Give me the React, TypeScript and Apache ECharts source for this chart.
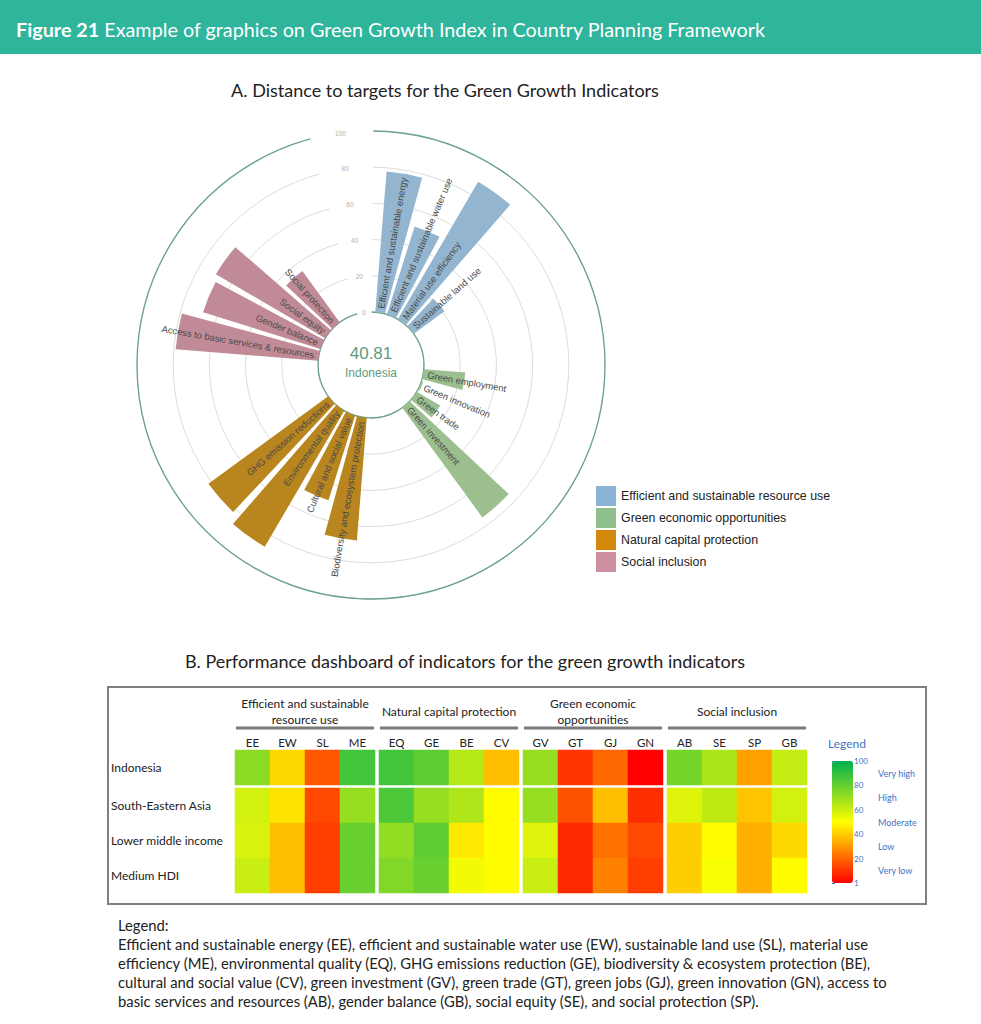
import React, { useEffect, useRef } from 'react';
import * as echarts from 'echarts';

// ---------- Panel A: distance to targets (polar bars) ----------
const groupNames = [
  'Efficient and sustainable resource use',
  'Green economic opportunities',
  'Natural capital protection',
  'Social inclusion',
];
const barColors = ['#94b5cf', '#9bbf8f', '#b9851e', '#c08b97'];
const swatchColors = ['#8ab3d3', '#8fbf8d', '#d2870d', '#cf8fa0'];

const resourceIndicators = [
  'Efficient and sustainable energy',
  'Efficient and sustainable water use',
  'Material use efficiency',
  'Sustainable land use',
];
const resourceValues = [78, 51, 88, 21];

const economicIndicators = ['Green employment', 'Green innovation', 'Green trade', 'Green investment'];
const economicValues = [23, 1, 15, 75];

const naturalIndicators = [
  'Biodiversity and ecosystem protection',
  'Cultural and social value',
  'Environmental quality',
  'GHG emission reductions',
];
const naturalValues = [68, 49, 87, 82];

const socialIndicators = [
  'Access to basic services & resources',
  'Gender balance',
  'Social equity',
  'Social protection',
];
const socialValues = [79, 68, 70, 35];

const radialTicks = [0, 20, 40, 60, 80, 100];
const overallScore = '40.81';
const countryName = 'Indonesia';

// ---------- Panel B: performance dashboard (heatmap) ----------
const regions = ['Indonesia', 'South-Eastern Asia', 'Lower middle income', 'Medium HDI'];
const dashboardGroups = [
  'Efficient and sustainable\nresource use',
  'Natural capital protection',
  'Green economic\nopportunities',
  'Social inclusion',
];
const indicatorCodes = [
  ['EE', 'EW', 'SL', 'ME'],
  ['EQ', 'GE', 'BE', 'CV'],
  ['GV', 'GT', 'GJ', 'GN'],
  ['AB', 'SE', 'SP', 'GB'],
];
const indonesiaScores = [73, 43, 18, 87, 87, 82, 65, 38, 71, 11, 21, 1, 77, 67, 32, 62];
const seAsiaScores = [59, 45, 15, 71, 85, 71, 66, 50, 71, 17, 38, 10, 57, 63, 39, 59];
const lowerMiddleScores = [58, 38, 13, 80, 72, 82, 46, 50, 57, 9, 23, 15, 41, 50, 35, 43];
const mediumHdiScores = [61, 38, 13, 80, 75, 80, 53, 50, 61, 9, 26, 13, 41, 52, 35, 50];
const colorbarTicks = ['1', '20', '40', '60', '80', '100'];
const colorbarBands = ['Very low', 'Low', 'Moderate', 'High', 'Very high'];

const legendLines = [
  'Legend:',
  'Efficient and sustainable energy (EE), efficient and sustainable water use (EW), sustainable land use (SL), material use',
  'efficiency (ME), environmental quality (EQ), GHG emissions reduction (GE), biodiversity & ecosystem protection (BE),',
  'cultural and social value (CV), green investment (GV), green trade (GT), green jobs (GJ), green innovation (GN), access to',
  'basic services and resources (AB), gender balance (GB), social equity (SE), and social protection (SP).',
];

const FONT = 'Lato, "Open Sans", sans-serif';
const ARIAL = '"Liberation Sans", Arial, sans-serif';

function buildOption() {
  const cx = 371;
  const cy = 365;
  const r0 = 53;
  const r1 = 234;
  const gapSlots = 3;

  const indicatorGroups = [resourceIndicators, economicIndicators, naturalIndicators, socialIndicators];
  const valueGroups = [resourceValues, economicValues, naturalValues, socialValues];
  const angleCats: string[] = [];
  const slotOwner: number[] = [];
  const slotValue: number[] = [];
  indicatorGroups.forEach((inds, g) => {
    inds.forEach((n, k) => {
      angleCats.push(n);
      slotOwner.push(g);
      slotValue.push(valueGroups[g][k]);
    });
    for (let i = 0; i < gapSlots; i++) {
      angleCats.push('gap-' + g + '-' + i);
      slotOwner.push(-1);
      slotValue.push(0);
    }
  });

  const barSeries = groupNames.map((name, g) => ({
    type: 'bar',
    name,
    coordinateSystem: 'polar',
    polarIndex: 0,
    stack: 'all',
    barCategoryGap: '17%',
    itemStyle: { color: barColors[g] },
    data: angleCats.map((_, i) => (slotOwner[i] === g ? slotValue[i] : null)),
    z: 2,
  }));

  const labelData: number[][] = [];
  angleCats.forEach((_, i) => {
    if (slotOwner[i] >= 0) labelData.push([2.5, i]);
  });

  const labelSeries = {
    type: 'custom',
    name: 'indicator labels',
    coordinateSystem: 'polar',
    polarIndex: 0,
    data: labelData,
    silent: true,
    z: 5,
    renderItem: (params: any, api: any) => {
      const idx = api.value(1);
      const p = api.coord([api.value(0), idx]);
      const cs = params.coordSys;
      const dx = p[0] - cs.cx;
      const dy = p[1] - cs.cy;
      let deg = (Math.atan2(dx, -dy) * 180) / Math.PI;
      if (deg < 0) deg += 360;
      const left = deg > 180;
      const rot = left ? 270 - deg : 90 - deg;
      return {
        type: 'text',
        x: p[0],
        y: p[1],
        rotation: (rot * Math.PI) / 180,
        style: {
          text: angleCats[idx],
          fill: '#4a4a4a',
          fontSize: 9.4,
          fontFamily: ARIAL,
          align: left ? 'right' : 'left',
          verticalAlign: 'middle',
        },
      };
    },
  };

  // heatmap grids
  const rowSets = [[0], [1, 2, 3]];
  const allScores = [indonesiaScores, seAsiaScores, lowerMiddleScores, mediumHdiScores];
  const cell = 35;
  const grids: any[] = [];
  const xAxes: any[] = [];
  const yAxes: any[] = [];
  const heatSeries: any[] = [];
  const hmLeft = 235;
  const groupStep = cell * 4 + 4;
  const tops = [750, 788];
  rowSets.forEach((rows, s) => {
    indicatorCodes.forEach((codes, g) => {
      const gi = grids.length;
      grids.push({
        left: hmLeft + g * groupStep,
        top: tops[s],
        width: cell * 4,
        height: cell * rows.length,
      });
      xAxes.push({
        type: 'category',
        gridIndex: gi,
        data: codes,
        position: 'top',
        axisLine: { show: false },
        axisTick: { show: false },
        axisLabel: { show: s === 0, fontSize: 11.5, color: '#222', margin: 2, fontFamily: FONT },
        splitLine: { show: false },
      });
      yAxes.push({
        type: 'category',
        gridIndex: gi,
        inverse: true,
        data: rows.map((r) => regions[r]),
        axisLine: { show: false },
        axisTick: { show: false },
        axisLabel: {
          show: g === 0,
          align: 'left',
          margin: hmLeft - 111,
          fontSize: 12,
          color: '#222',
          fontFamily: FONT,
        },
        splitLine: { show: false },
      });
      const data: number[][] = [];
      rows.forEach((r, ri) => {
        codes.forEach((_, k) => {
          data.push([k, ri, allScores[r][g * 4 + k]]);
        });
      });
      heatSeries.push({
        type: 'heatmap',
        name: 'dashboard-' + s + '-' + g,
        xAxisIndex: gi,
        yAxisIndex: gi,
        data,
        silent: true,
      });
    });
  });

  // colorbar axis grid
  const cbGrid = grids.length;
  grids.push({ left: 832, top: 761, width: 21, height: 122 });
  xAxes.push({ type: 'value', gridIndex: cbGrid, show: false });
  yAxes.push({
    type: 'category',
    gridIndex: cbGrid,
    data: colorbarTicks,
    boundaryGap: false,
    position: 'right',
    axisLine: { show: false },
    axisTick: { show: true, length: 3, lineStyle: { color: '#4472c4' } },
    axisLabel: { fontSize: 8, color: '#4472c4', margin: 1, fontFamily: FONT },
    splitLine: { show: false },
  });
  yAxes.push({
    type: 'category',
    gridIndex: cbGrid,
    data: colorbarBands,
    position: 'right',
    offset: 25,
    axisLine: { show: false },
    axisTick: { show: false },
    axisLabel: { fontSize: 9, color: '#4472c4', margin: 0, align: 'left', fontFamily: FONT },
    splitLine: { show: false },
  });

  const seriesList: any[] = [...barSeries, labelSeries, ...heatSeries];
  const heatIdx = heatSeries.map((_, i) => barSeries.length + 1 + i);

  const gapStart = -Math.PI / 2 - (15 * Math.PI) / 180;
  const gapEnd = -Math.PI / 2 + (0.6 * Math.PI) / 180;

  const graphics: any[] = [
    { type: 'rect', shape: { x: 0, y: 0, width: 981, height: 54 }, style: { fill: '#2eb59b' }, z: 1 },
    {
      type: 'text',
      x: 16,
      y: 29,
      z: 2,
      style: {
        text: '{b|Figure 21} Example of graphics on Green Growth Index in Country Planning Framework',
        fill: '#fff',
        fontSize: 19.8,
        fontFamily: FONT,
        verticalAlign: 'middle',
        rich: { b: { fontWeight: 'bold', fontSize: 19.8, fontFamily: FONT, fill: '#fff' } },
      },
    },
    {
      type: 'text',
      x: 445,
      y: 90,
      style: {
        text: 'A. Distance to targets for the Green Growth Indicators',
        fill: '#222',
        fontSize: 18,
        fontFamily: FONT,
        align: 'center',
        verticalAlign: 'middle',
      },
    },
    {
      type: 'sector',
      z: 1,
      shape: { cx, cy, r0: r0 - 4, r: r1 + 5, startAngle: gapStart, endAngle: gapEnd },
      style: { fill: '#fff' },
    },
    {
      type: 'text',
      x: cx,
      y: 353,
      z: 5,
      style: {
        text: overallScore,
        fill: '#5e9c80',
        fontSize: 17,
        fontFamily: ARIAL,
        align: 'center',
        verticalAlign: 'middle',
      },
    },
    {
      type: 'text',
      x: cx,
      y: 373,
      z: 5,
      style: {
        text: countryName,
        fill: '#5e9c80',
        fontSize: 12,
        fontFamily: ARIAL,
        align: 'center',
        verticalAlign: 'middle',
      },
    },
    {
      type: 'text',
      x: 465,
      y: 661,
      style: {
        text: 'B. Performance dashboard of indicators for the green growth indicators',
        fill: '#222',
        fontSize: 18,
        fontFamily: FONT,
        align: 'center',
        verticalAlign: 'middle',
      },
    },
    {
      type: 'rect',
      shape: { x: 108, y: 687, width: 818, height: 217 },
      style: { fill: 'none', stroke: '#808080', lineWidth: 2 },
    },
    {
      type: 'text',
      x: 828,
      y: 743,
      style: { text: 'Legend', fill: '#4472c4', fontSize: 12, fontFamily: FONT, verticalAlign: 'middle' },
    },
  ];
  dashboardGroups.forEach((name, g) => {
    const gx = hmLeft + g * groupStep;
    graphics.push({
      type: 'text',
      x: gx + cell * 2,
      y: 711,
      style: {
        text: name,
        fill: '#222',
        fontSize: 12,
        lineHeight: 16,
        fontFamily: FONT,
        align: 'center',
        verticalAlign: 'middle',
      },
    });
    graphics.push({
      type: 'line',
      shape: { x1: gx + 1, y1: 728, x2: gx + cell * 4 - 1, y2: 728 },
      style: { stroke: '#7a7a7a', lineWidth: 3 },
    });
  });
  legendLines.forEach((line, i) => {
    graphics.push({
      type: 'text',
      x: 118,
      y: 925 + i * 19,
      style: { text: line, fill: '#222', fontSize: 14.8, fontFamily: FONT, verticalAlign: 'middle' },
    });
  });

  return {
    animation: false,
    backgroundColor: '#fff',
    textStyle: { fontFamily: FONT },
    polar: [
      { center: [cx, cy], radius: [r0, r1] },
      { center: [cx, cy], radius: [r0, r1] },
    ],
    angleAxis: [
      {
        polarIndex: 0,
        type: 'category',
        data: angleCats,
        startAngle: 86.5,
        clockwise: true,
        axisLine: { show: false },
        axisTick: { show: false },
        axisLabel: { show: false },
        splitLine: { show: false },
        z: 0,
      },
      {
        polarIndex: 1,
        type: 'value',
        min: 0,
        max: 360,
        startAngle: 97.5,
        axisLine: { show: true, lineStyle: { color: '#6aa386', width: 1.3 } },
        axisTick: { show: false },
        axisLabel: { show: false },
        splitLine: { show: false },
        z: 0,
      },
    ],
    radiusAxis: [
      {
        polarIndex: 0,
        type: 'value',
        min: radialTicks[0],
        max: radialTicks[radialTicks.length - 1],
        interval: radialTicks[1] - radialTicks[0],
        axisLine: { show: false },
        axisTick: { show: false },
        axisLabel: { show: false },
        splitLine: { show: true, lineStyle: { color: '#dcdcdc', width: 1 } },
        z: 0,
      },
      {
        polarIndex: 1,
        type: 'value',
        min: radialTicks[0],
        max: radialTicks[radialTicks.length - 1],
        interval: radialTicks[1] - radialTicks[0],
        axisLine: { show: false },
        axisTick: { show: false },
        axisLabel: {
          show: true,
          fontSize: 6.5,
          color: '#b0b0b0',
          margin: 0,
          align: 'center',
          verticalAlign: 'middle',
          fontFamily: ARIAL,
        },
        splitLine: { show: false },
        z: 10,
      },
    ],
    legend: {
      data: groupNames.map((n, g) => ({ name: n, itemStyle: { color: swatchColors[g] } })),
      left: 596,
      top: 486,
      orient: 'vertical',
      icon: 'rect',
      itemWidth: 20,
      itemHeight: 20,
      itemGap: 2,
      padding: 0,
      selectedMode: false,
      textStyle: { fontSize: 12.4, color: '#222', fontFamily: ARIAL },
    },
    grid: grids,
    xAxis: xAxes,
    yAxis: yAxes,
    visualMap: {
      type: 'continuous',
      min: 1,
      max: 100,
      dimension: 2,
      seriesIndex: heatIdx,
      calculable: false,
      hoverLink: false,
      left: 832,
      top: 761,
      itemWidth: 21,
      itemHeight: 122,
      padding: 0,
      inRange: { color: ['#ff0000', '#ffff00', '#00b050'] },
    },
    graphic: { elements: graphics },
    series: seriesList,
  };
}

export default function App() {
  const ref = useRef<HTMLDivElement>(null);
  useEffect(() => {
    if (!ref.current) return;
    const chart = echarts.init(ref.current, undefined, { renderer: 'svg' });
    chart.setOption(buildOption() as any);
    return () => chart.dispose();
  }, []);
  return (
    <div
      ref={ref}
      style={{ position: 'absolute', left: 0, top: 0, width: 981, height: 1024, background: '#fff' }}
    />
  );
}
